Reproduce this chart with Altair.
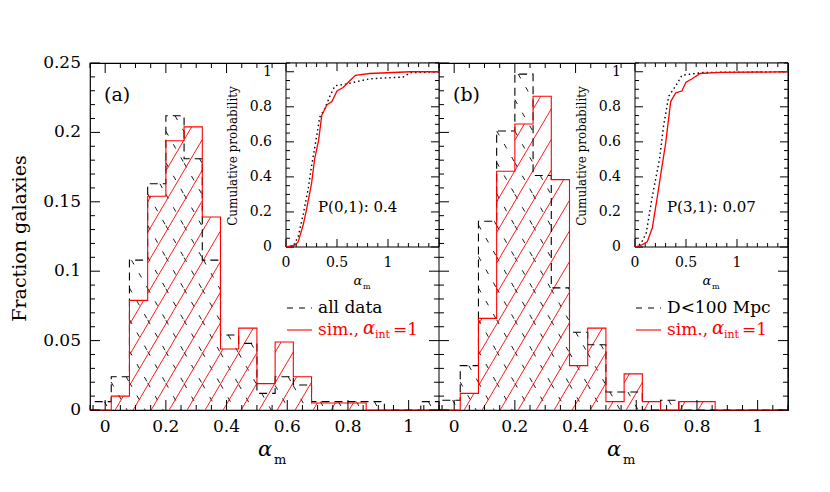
import math
import altair as alt
import pandas as pd

# ---------------- data ----------------
BIN_EDGES = [-0.04, 0.02, 0.08, 0.14, 0.20, 0.26, 0.32, 0.38, 0.44, 0.50,
             0.56, 0.62, 0.68, 0.74, 0.80, 0.86, 0.92, 0.98, 1.04, 1.10]

A_DATA = [0.006, 0.024, 0.108, 0.163, 0.212, 0.181, 0.108, 0.054, 0.048, 0.012,
          0.024, 0.018, 0.006, 0.006, 0.006, 0.006, 0.0, 0.0, 0.006]
A_SIM = [0.0, 0.010, 0.079, 0.154, 0.194, 0.204, 0.139, 0.044, 0.059, 0.019,
         0.049, 0.024, 0.005, 0.005, 0.005, 0.0, 0.0, 0.0, 0.0]
B_DATA = [0.007, 0.032, 0.136, 0.201, 0.242, 0.169, 0.088, 0.056, 0.047, 0.013,
          0.013, 0.0, 0.007, 0.0, 0.0, 0.0, 0.0, 0.0, 0.0]
B_SIM = [0.0, 0.012, 0.066, 0.172, 0.206, 0.226, 0.166, 0.032, 0.059, 0.006,
         0.026, 0.006, 0.0, 0.006, 0.006, 0.0, 0.0, 0.0, 0.0]

A_CDF_DATA_X = [0, 0.07, 0.12, 0.17, 0.22, 0.25, 0.30, 0.33, 0.38, 0.43, 0.48, 0.59, 0.82, 1.15, 1.22, 1.5]
A_CDF_DATA_Y = [0, 0.004, 0.06, 0.19, 0.34, 0.46, 0.63, 0.74, 0.79, 0.86, 0.92, 0.93, 0.96, 0.97, 0.995, 1.0]
A_CDF_SIM_X = [0, 0.088, 0.12, 0.17, 0.20, 0.25, 0.28, 0.32, 0.35, 0.40, 0.45, 0.50, 0.56, 0.61, 0.68, 0.82, 1.22, 1.5]
A_CDF_SIM_Y = [0, 0.01, 0.03, 0.13, 0.21, 0.36, 0.50, 0.61, 0.75, 0.81, 0.83, 0.89, 0.91, 0.94, 0.98, 0.99, 1.0, 1.0]

B_CDF_DATA_X = [0, 0.06, 0.11, 0.17, 0.24, 0.28, 0.33, 0.40, 0.46, 0.67, 1.5]
B_CDF_DATA_Y = [0, 0.02, 0.08, 0.29, 0.50, 0.69, 0.86, 0.92, 0.98, 0.996, 1.0]
B_CDF_SIM_X = [0, 0.06, 0.12, 0.17, 0.22, 0.27, 0.30, 0.35, 0.40, 0.46, 0.50, 0.56, 0.64, 0.83, 1.5]
B_CDF_SIM_Y = [0, 0.01, 0.03, 0.11, 0.29, 0.48, 0.59, 0.83, 0.88, 0.89, 0.94, 0.96, 0.99, 0.996, 1.0]

X_TICK_VALUES = [0, 0.2, 0.4, 0.6, 0.8, 1.0]
X_TICK_LABELS = ["0", "0.2", "0.4", "0.6", "0.8", "1"]
Y_TICK_VALUES = [0, 0.05, 0.1, 0.15, 0.2, 0.25]
Y_TICK_LABELS = ["0", "0.05", "0.1", "0.15", "0.2", "0.25"]
IX_TICK_VALUES = [0, 0.5, 1.0]
IX_TICK_LABELS = ["0", "0.5", "1"]
IY_TICK_VALUES = [0, 0.2, 0.4, 0.6, 0.8, 1.0]
IY_TICK_LABELS = ["0", "0.2", "0.4", "0.6", "0.8", "1"]

# ---------------- layout ----------------
W_PANEL = 349
H = 347
XMIN, XMAX = -0.05, 1.10
YMAX = 0.25
INSET_L = 196
INSET_B = 184
IX_MAX = 1.5
IY_MAX = 1.05
FONT = "DejaVu Serif"
RED = "#ff0000"

KX = W_PANEL / (XMAX - XMIN)
KY = H / YMAX


def hatch_rows(heights, slope, spacing, phase, sign):
    rows = []
    for i, h in enumerate(heights):
        if h <= 0:
            continue
        x0 = BIN_EDGES[i] * KX
        x1 = BIN_EDGES[i + 1] * KX
        hp = h * KY
        run = hp / slope
        kmin = math.floor((x0 - run - phase) / spacing) - 1
        kmax = math.ceil((x1 + run - phase) / spacing) + 1
        for k in range(kmin, kmax + 1):
            c = phase + k * spacing
            if sign > 0:
                xa, xb = max(x0, c), min(x1, c + run)
                if xb - xa < 0.3:
                    continue
                ya, yb = slope * (xa - c), slope * (xb - c)
            else:
                xa, xb = max(x0, c - run), min(x1, c)
                if xb - xa < 0.3:
                    continue
                ya, yb = slope * (c - xa), slope * (c - xb)
            rows.append({"x": xa / KX, "x2": xb / KX, "y": ya / KY, "y2": yb / KY})
    return pd.DataFrame(rows)


def outline_rows(heights):
    pts = [(XMIN, 0.0), (BIN_EDGES[0], 0.0)]
    for i, h in enumerate(heights):
        pts.append((BIN_EDGES[i], h))
        pts.append((BIN_EDGES[i + 1], h))
    pts.append((BIN_EDGES[-1], 0.0))
    return pd.DataFrame({"i": list(range(len(pts))), "x": [p[0] for p in pts], "y": [p[1] for p in pts]})


def minor(lo, hi, step, majors):
    n = int(round((hi - lo) / step))
    vals = [round(lo + k * step, 4) for k in range(n + 1)]
    return [v for v in vals if all(abs(v - m) > 1e-6 for m in majors)]


def text(x, y, s, size=16, color="black", align="left", style="normal", angle=0, baseline="middle"):
    kw = dict(font=FONT, fontSize=size, color=color, align=align, baseline=baseline, fontStyle=style)
    if angle:
        kw["angle"] = angle
    return alt.Chart(pd.DataFrame({"t": [s]})).mark_text(**kw).encode(
        x=alt.value(x), y=alt.value(y), text="t:N")


def panel(r0, hist_data, hist_sim, cdx, cdy, csx, csy, tag, ptext, legend_label, show_y):
    r1 = r0 + W_PANEL
    xs = alt.Scale(domain=[XMIN, XMAX], range=[r0, r1], nice=False, zero=False)
    ys = alt.Scale(domain=[0, YMAX], range=[H, 0], nice=False, zero=False)

    def X(f):
        return alt.X(f, type="quantitative", scale=xs, axis=None)

    def Y(f):
        return alt.Y(f, type="quantitative", scale=ys, axis=None)

    main = []
    bh = hatch_rows(hist_data, 1.75, 18, 4, -1)
    main.append(alt.Chart(bh).mark_rule(color="black", strokeWidth=0.9, strokeDash=[5, 10]).encode(
        x=X("x"), x2=alt.X2("x2"), y=Y("y"), y2=alt.Y2("y2")))
    rh = hatch_rows(hist_sim, 1.7, 18, 10, 1)
    main.append(alt.Chart(rh).mark_rule(color=RED, strokeWidth=0.9).encode(
        x=X("x"), x2=alt.X2("x2"), y=Y("y"), y2=alt.Y2("y2")))
    main.append(alt.Chart(outline_rows(hist_data)).mark_line(color="black", strokeWidth=1.1, strokeDash=[8, 5]).encode(
        x=X("x"), y=Y("y"), order="i:Q"))
    main.append(alt.Chart(outline_rows(hist_sim)).mark_line(color=RED, strokeWidth=1.1).encode(
        x=X("x"), y=Y("y"), order="i:Q"))

    # ticks (inward) on all four sides
    xmaj = X_TICK_VALUES
    xmin_ = minor(-0.05, 1.10, 0.05, xmaj)
    ymaj = Y_TICK_VALUES
    ymin_ = minor(0.0, 0.25, 0.01, ymaj)
    for vals, L in ((xmaj, 10), (xmin_, 5)):
        df = pd.DataFrame({"v": vals})
        main.append(alt.Chart(df).mark_rule(color="black").encode(x=X("v"), y=alt.value(H), y2=alt.value(H - L)))
        top = pd.DataFrame({"v": [v for v in vals if v < 0.58]})
        main.append(alt.Chart(top).mark_rule(color="black").encode(x=X("v"), y=alt.value(0), y2=alt.value(L)))
    for vals, L in ((ymaj, 10), (ymin_, 5)):
        df = pd.DataFrame({"v": vals})
        main.append(alt.Chart(df).mark_rule(color="black").encode(y=Y("v"), x=alt.value(r0), x2=alt.value(r0 + L)))
        main.append(alt.Chart(df).mark_rule(color="black").encode(y=Y("v"), x=alt.value(r1), x2=alt.value(r1 - L)))

    # tick labels
    main.append(alt.Chart(pd.DataFrame({"v": X_TICK_VALUES, "t": X_TICK_LABELS})).mark_text(
        font=FONT, fontSize=17, baseline="middle").encode(x=X("v"), y=alt.value(H + 17), text="t:N"))
    if show_y:
        main.append(alt.Chart(pd.DataFrame({"v": Y_TICK_VALUES, "t": Y_TICK_LABELS})).mark_text(
            font=FONT, fontSize=17, align="right", baseline="middle").encode(
            y=Y("v"), x=alt.value(r0 - 9), text="t:N"))
        main.append(text(r0 - 70, H / 2 + 2, "Fraction galaxies", size=19, align="center", angle=270))
    main.append(alt.Chart(pd.DataFrame({"v": [XMAX]})).mark_rule(color="black").encode(
        x=X("v"), y=alt.value(0), y2=alt.value(H)))

    # axis title alpha_m
    main.append(text(r0 + 175, H + 40, "α", size=21, align="center", style="italic"))
    main.append(text(r0 + 184, H + 50, "m", size=13, align="left"))

    # panel tag
    main.append(text(r0 + 14, 32, tag, size=19))

    # legend
    main.append(alt.Chart(pd.DataFrame({"a": [0]})).mark_rule(color="black", strokeDash=[6, 6], strokeWidth=1.1).encode(
        x=alt.value(r0 + 197), x2=alt.value(r0 + 222), y=alt.value(245)))
    main.append(alt.Chart(pd.DataFrame({"a": [0]})).mark_rule(color=RED, strokeWidth=1.1).encode(
        x=alt.value(r0 + 197), x2=alt.value(r0 + 222), y=alt.value(267)))
    main.append(text(r0 + 228, 245, legend_label, size=17))
    main.append(text(r0 + 228, 267, "sim.,", size=17, color=RED))
    main.append(text(r0 + 273, 266, "α", size=18, color=RED, style="italic"))
    main.append(text(r0 + 285, 272, "int", size=11, color=RED))
    main.append(text(r0 + 303, 267, "=1", size=17, color=RED))

    g_main = alt.layer(*main)

    # ---------------- inset ----------------
    il = r0 + INSET_L
    xi = alt.Scale(domain=[0, IX_MAX], range=[il, r1], nice=False, zero=False)
    yi = alt.Scale(domain=[0, IY_MAX], range=[INSET_B, 0], nice=False, zero=False)

    def XI(f):
        return alt.X(f, type="quantitative", scale=xi, axis=None)

    def YI(f):
        return alt.Y(f, type="quantitative", scale=yi, axis=None)

    ins = []
    ins.append(alt.Chart(pd.DataFrame({"x": [0], "x2": [IX_MAX], "y": [0], "y2": [IY_MAX]})).mark_rect(
        fill="white", stroke="black", strokeWidth=1).encode(x=XI("x"), x2=alt.X2("x2"), y=YI("y"), y2=alt.Y2("y2")))
    for vals, L in ((IX_TICK_VALUES + [1.5], 8), (minor(0, 1.5, 0.1, [0, 0.5, 1.0, 1.5]), 4)):
        df = pd.DataFrame({"v": vals})
        ins.append(alt.Chart(df).mark_rule(color="black").encode(x=XI("v"), y=alt.value(INSET_B), y2=alt.value(INSET_B - L)))
        ins.append(alt.Chart(df).mark_rule(color="black").encode(x=XI("v"), y=alt.value(0), y2=alt.value(L)))
    for vals, L in ((IY_TICK_VALUES, 8), (minor(0, 1.05, 0.05, IY_TICK_VALUES), 4)):
        df = pd.DataFrame({"v": vals})
        ins.append(alt.Chart(df).mark_rule(color="black").encode(y=YI("v"), x=alt.value(il), x2=alt.value(il + L)))
        ins.append(alt.Chart(df).mark_rule(color="black").encode(y=YI("v"), x=alt.value(r1), x2=alt.value(r1 - L)))

    d = pd.DataFrame({"i": range(len(cdx)), "x": cdx, "y": cdy})
    ins.append(alt.Chart(d).mark_line(color="black", strokeWidth=1.4, strokeDash=[1.5, 3]).encode(
        x=XI("x"), y=YI("y"), order="i:Q"))
    s = pd.DataFrame({"i": range(len(csx)), "x": csx, "y": csy})
    ins.append(alt.Chart(s).mark_line(color=RED, strokeWidth=1.3).encode(
        x=XI("x"), y=YI("y"), order="i:Q"))

    ins.append(alt.Chart(pd.DataFrame({"v": IX_TICK_VALUES, "t": IX_TICK_LABELS})).mark_text(
        font=FONT, fontSize=14, baseline="middle").encode(x=XI("v"), y=alt.value(INSET_B + 16), text="t:N"))
    ins.append(alt.Chart(pd.DataFrame({"v": IY_TICK_VALUES, "t": IY_TICK_LABELS})).mark_text(
        font=FONT, fontSize=14, align="right", baseline="middle").encode(
        y=YI("v"), x=alt.value(il - 14), text="t:N"))
    ins.append(text(r0 + 143, 93, "Cumulative probability", size=12, align="center", angle=270))
    ins.append(text(r0 + 268, 218, "α", size=13, align="center", style="italic"))
    ins.append(text(r0 + 273, 224, "m", size=8, align="left"))
    ins.append(text(r0 + 228, 144, ptext, size=15))

    g_ins = alt.layer(*ins)
    return g_main, g_ins


a_main, a_ins = panel(0, A_DATA, A_SIM, A_CDF_DATA_X, A_CDF_DATA_Y, A_CDF_SIM_X, A_CDF_SIM_Y,
                      "(a)", "P(0,1): 0.4", "all data", True)
b_main, b_ins = panel(W_PANEL, B_DATA, B_SIM, B_CDF_DATA_X, B_CDF_DATA_Y, B_CDF_SIM_X, B_CDF_SIM_Y,
                      "(b)", "P(3,1): 0.07", "D<100 Mpc", False)

chart = alt.layer(a_main, a_ins, b_main, b_ins).resolve_scale(
    x="independent", y="independent"
).properties(
    width=2 * W_PANEL, height=H,
    padding={"left": 82, "top": 55, "right": 34, "bottom": 70},
    autosize=alt.AutoSizeParams(type="none"),
    background="white",
).configure_view(stroke="black", strokeWidth=1.2)

chart.save("out.html", embed_options={"renderer": "svg", "actions": False})
